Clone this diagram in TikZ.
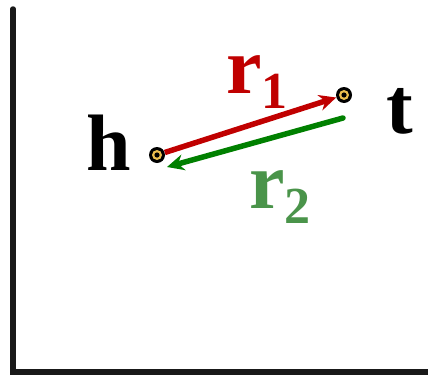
\documentclass[tikz,border=0pt]{standalone}
\usepackage{fontspec}
\setmainfont{Liberation Serif}
\usetikzlibrary{arrows.meta,positioning}

\definecolor{relred}{HTML}{C00000}
\definecolor{relgreen}{HTML}{008000}
\definecolor{labgreen}{HTML}{4A944A}
\definecolor{dotgold}{HTML}{EBBE4E}

\begin{document}
\begin{tikzpicture}[
        x=1pt, y=-1pt,
        axis/.style={line width=5.5pt, draw=black!90, line cap=round},
        entity/.style={
            circle,
            minimum size=16pt,
            inner sep=0pt,
            fill=black,
            path picture={
                \fill[dotgold] (path picture bounding box.center) circle (5pt);
                \fill[black] (path picture bounding box.center) circle (2.6pt);
            }
        },
        biglabel/.style={anchor=base west, inner sep=0pt,
            font=\fontsize{80}{80}\selectfont\bfseries},
        relation/.style={line width=5.5pt,
            -{Stealth[length=17pt, width=16pt]}}
    ]
        \useasboundingbox (0,0) rectangle (428,375);

        % axes
        \draw[axis] (13,9) -- (13,372) -- (428,372);

        % entities
        \node[entity] (h) at (157,155) {};
        \node[entity] (t) at (344,95) {};

        \node[biglabel] (hlabel) at (86,170) {h};
        \node[biglabel] (tlabel) at (386,133) {t};

        % relations
        \draw[relation, draw=relred, fill=relred] (h) -- (t);

        \coordinate (g1) at (343,118);
        \coordinate (g2) at (167,167);
        \draw[relation, draw=relgreen, fill=relgreen, line cap=round] (g1) -- (g2);

        \node[biglabel, text=relred] (r1) at (226,93)
            {r\raisebox{-15pt}{\fontsize{52}{52}\selectfont\bfseries 1}};
        \node[biglabel, text=labgreen] (r2) at (249,208)
            {r\raisebox{-15pt}{\fontsize{52}{52}\selectfont\bfseries 2}};
\end{tikzpicture}
\end{document}
